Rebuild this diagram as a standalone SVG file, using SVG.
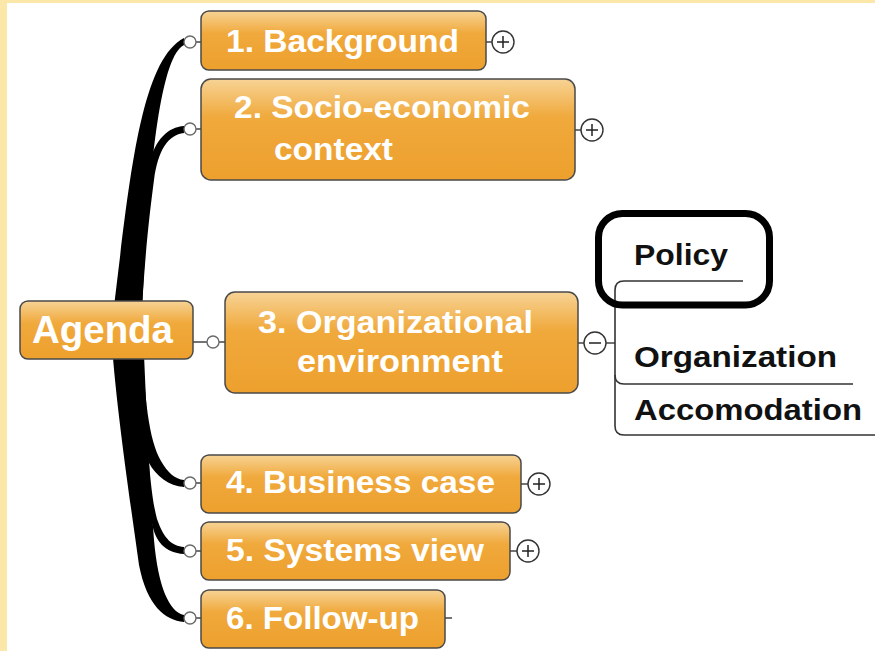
<svg xmlns="http://www.w3.org/2000/svg" width="875" height="651" viewBox="0 0 875 651">
<defs>
<linearGradient id="og" x1="0" y1="0" x2="0" y2="1">
<stop offset="0" stop-color="#F7D395"/>
<stop offset="0.38" stop-color="#F0A93C"/>
<stop offset="1" stop-color="#EDA02D"/>
</linearGradient>
<style>
.box{fill:url(#og);stroke:#4a4a4a;stroke-width:1.5}
.wt{font-family:"Liberation Sans",Arial,sans-serif;font-weight:bold;fill:#ffffff;font-size:31px}
.bt{font-family:"Liberation Sans",Arial,sans-serif;font-weight:bold;fill:#111111;font-size:29px}
.br{fill:#000000}
.dot{fill:#ffffff;stroke:#6a6a6a;stroke-width:1.4}
.tog{fill:#ffffff;stroke:#333333;stroke-width:1.4}
.ln{stroke:#444444;stroke-width:1.5;fill:none}
.ul{stroke:#333333;stroke-width:1.6;fill:none}
</style>
</defs>
<rect x="0" y="0" width="875" height="651" fill="#ffffff"/>
<rect x="0" y="0" width="875" height="3" fill="#FBE8A9"/>
<rect x="0" y="0" width="7" height="651" fill="#FBE8A9"/>

<g id="connectors">
<path class="br" d="M111,330 C128,200 137,62 184,38 L184,45 C157,58 147,200 141,330 Z"/>
<path class="br" d="M128,330 L150,162 C155,140 168,127 184,126 L184,133 C168,135 158,150 154,180 C150,210 144,260 141,330 Z"/>
<path class="br" d="M142,330 C144,400 149,440 161,461 C168,473 175,479 184,480 L184,487 C169,486 156,476 149,463 L130,330 Z"/>
<path class="br" d="M140,330 C146,420 149,490 157,519 C164,539 172,546 184,547 L184,554 C165,553 155,541 152,523 L128,330 Z"/>
<path class="br" d="M111,330 C115,400 130,500 139,565 C147,606 165,620 184,622 L184,615 C169,612 158,586 154,540 L151,500 C147,420 145,380 143,330 Z"/>
<line class="ln" x1="193" y1="342" x2="207" y2="342"/>
<line class="ln" x1="219" y1="342" x2="226" y2="342"/>
<line class="ln" x1="196" y1="42" x2="202" y2="42"/>
<line class="ln" x1="196" y1="129" x2="202" y2="129"/>
<line class="ln" x1="196" y1="483" x2="202" y2="483"/>
<line class="ln" x1="196" y1="551" x2="202" y2="551"/>
<line class="ln" x1="196" y1="618" x2="202" y2="618"/>
<circle class="dot" cx="213" cy="342" r="6"/>
<circle class="dot" cx="190" cy="42" r="6"/>
<circle class="dot" cx="190" cy="129" r="6"/>
<circle class="dot" cx="190" cy="483" r="6"/>
<circle class="dot" cx="190" cy="551" r="6"/>
<circle class="dot" cx="190" cy="618" r="6"/>
<line class="ln" x1="606" y1="343" x2="615" y2="343"/>
<path class="ul" d="M743,281 L624,281 Q615,281 615,290 L615,426 Q615,435 624,435 L875,435"/>
<path class="ul" d="M615,375 Q615,384 624,384 L853,384"/>
</g>

<g id="agenda">
<rect class="box" x="20" y="301" width="173" height="58" rx="8"/>
<text class="wt" x="32" y="343" style="font-size:38px" textLength="141" lengthAdjust="spacingAndGlyphs">Agenda</text>
</g>

<g id="node1">
<rect class="box" x="201" y="11" width="285" height="59" rx="8"/>
<text class="wt" x="226" y="52" textLength="233" lengthAdjust="spacingAndGlyphs">1. Background</text>
<line class="ln" x1="486" y1="42" x2="492" y2="42"/>
<circle class="tog" cx="503" cy="42" r="11"/>
<path class="ln" d="M497,42 H509 M503,36 V48" style="stroke:#222"/>
</g>

<g id="node2">
<rect class="box" x="201" y="79" width="374" height="101" rx="10"/>
<text class="wt" x="234" y="118" textLength="296" lengthAdjust="spacingAndGlyphs">2. Socio-economic</text>
<text class="wt" x="274" y="160" textLength="119" lengthAdjust="spacingAndGlyphs">context</text>
<line class="ln" x1="575" y1="130" x2="581" y2="130"/>
<circle class="tog" cx="592" cy="130" r="11"/>
<path class="ln" d="M586,130 H598 M592,124 V136" style="stroke:#222"/>
</g>

<g id="node3">
<rect class="box" x="225" y="292" width="353" height="101" rx="10"/>
<text class="wt" x="258" y="333" textLength="275" lengthAdjust="spacingAndGlyphs">3. Organizational</text>
<text class="wt" x="297" y="372" textLength="206" lengthAdjust="spacingAndGlyphs">environment</text>
<line class="ln" x1="578" y1="343" x2="584" y2="343"/>
<circle class="tog" cx="595" cy="343" r="11"/>
<path class="ln" d="M589,343 H601" style="stroke:#222"/>
</g>

<g id="node4">
<rect class="box" x="201" y="455" width="320" height="58" rx="8"/>
<text class="wt" x="226" y="493" textLength="269" lengthAdjust="spacingAndGlyphs">4. Business case</text>
<line class="ln" x1="521" y1="484" x2="528" y2="484"/>
<circle class="tog" cx="539" cy="484" r="11"/>
<path class="ln" d="M533,484 H545 M539,478 V490" style="stroke:#222"/>
</g>

<g id="node5">
<rect class="box" x="201" y="522" width="309" height="58" rx="8"/>
<text class="wt" x="226" y="561" textLength="258" lengthAdjust="spacingAndGlyphs">5. Systems view</text>
<line class="ln" x1="510" y1="551" x2="517" y2="551"/>
<circle class="tog" cx="528" cy="551" r="11"/>
<path class="ln" d="M522,551 H534 M528,545 V557" style="stroke:#222"/>
</g>

<g id="node6">
<rect class="box" x="201" y="590" width="244" height="58" rx="8"/>
<text class="wt" x="226" y="629" textLength="193" lengthAdjust="spacingAndGlyphs">6. Follow-up</text>
<line class="ln" x1="445" y1="618" x2="452" y2="618"/>
</g>

<g id="policy">
<text class="bt" x="634" y="265" textLength="94" lengthAdjust="spacingAndGlyphs">Policy</text>
<rect x="598.5" y="213.5" width="171" height="91.5" rx="24" fill="none" stroke="#000000" stroke-width="7"/>
</g>

<g id="organization">
<text class="bt" x="634" y="367" textLength="203" lengthAdjust="spacingAndGlyphs">Organization</text>
</g>

<g id="accomodation">
<text class="bt" x="634" y="420" textLength="228" lengthAdjust="spacingAndGlyphs">Accomodation</text>
</g>
</svg>
